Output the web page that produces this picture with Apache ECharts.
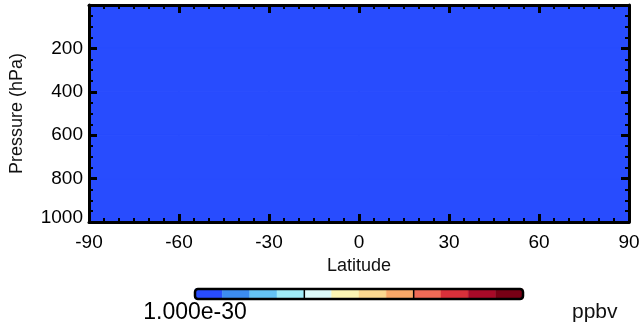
<!DOCTYPE html>
<html>
<head>
<meta charset="utf-8">
<script src="https://cdn.jsdelivr.net/npm/echarts@6/dist/echarts.min.js"></script>
<style>
html,body{margin:0;padding:0;background:#fff;}
#c{width:644px;height:330px;}
</style>
</head>
<body>
<div id="c"></div>
<script>
// ---- data ----
const latEdges = [-90, -60, -30, 0, 30, 60, 90];
const presEdges = [0, 200, 400, 600, 800, 1000];
// mixing ratio field (ppbv), rows = pressure bands, cols = latitude bands
const field = [
  [1e-30, 1e-30, 1e-30, 1e-30, 1e-30, 1e-30],
  [1e-30, 1e-30, 1e-30, 1e-30, 1e-30, 1e-30],
  [1e-30, 1e-30, 1e-30, 1e-30, 1e-30, 1e-30],
  [1e-30, 1e-30, 1e-30, 1e-30, 1e-30, 1e-30],
  [1e-30, 1e-30, 1e-30, 1e-30, 1e-30, 1e-30]
];
const contourLevels = [1e-30];
const contourColors = ['#284cfe', '#3c8cf0', '#64c3f5', '#a0ecf8', '#dcfafa', '#fcf5b4',
                       '#fcd890', '#faa868', '#f06a56', '#d8303a', '#a80a28', '#780015'];
const colorbarDividers = [4, 8];
const colorbarTickLabels = ['1.000e-30'];
const latTicks = [-90, -60, -30, 0, 30, 60, 90];
const presTicks = [200, 400, 600, 800, 1000];
const unitLabel = 'ppbv';

// ---- build ----
function colorFor(v) {
  let idx = 0;
  for (let i = 0; i < contourLevels.length; i++) if (v > contourLevels[i]) idx = i + 1;
  return contourColors[Math.min(idx, contourColors.length - 1)];
}
const cells = [];
for (let r = 0; r < field.length; r++)
  for (let c = 0; c < field[r].length; c++)
    cells.push([latEdges[c], latEdges[c + 1], presEdges[r], presEdges[r + 1], field[r][c]]);

const cbData = contourColors.map((col, i) => [i, i + 1]);

const font = 'Liberation Sans, Arial, Helvetica, sans-serif';
const chart = echarts.init(document.getElementById('c'), null, {renderer: 'canvas'});

const axisLine = {show: true, onZero: false, lineStyle: {color: '#000', width: 3}};
const axisTick = {show: true, inside: true, length: 8, lineStyle: {color: '#000', width: 3}};
const lastPres = presTicks[presTicks.length - 1];

chart.setOption({
  animation: false,
  backgroundColor: '#fff',
  grid: [
    {left: 88, right: 15, top: 5, bottom: 108, containLabel: false},
    {left: 195, width: 328, top: 289, height: 10, containLabel: false}
  ],
  xAxis: [
    {
      gridIndex: 0, type: 'value', min: -90, max: 90, interval: 30, position: 'bottom',
      name: 'Latitude', nameLocation: 'middle', nameGap: 30,
      nameTextStyle: {color: '#111', fontSize: 18, fontFamily: font},
      axisLabel: {color: '#000', fontSize: 19, fontFamily: font, margin: 11,
        formatter: v => latTicks.indexOf(v) >= 0 ? String(v) : ''},
      axisLine: axisLine, axisTick: axisTick,
      minorTick: {show: true, splitNumber: 6, length: 4, lineStyle: {color: '#000', width: 2}},
      splitLine: {show: false}, z: 10
    },
    {
      gridIndex: 0, type: 'value', min: -90, max: 90, interval: 30, position: 'top',
      axisLine: axisLine, axisTick: axisTick,
      minorTick: {show: true, splitNumber: 6, length: 4, lineStyle: {color: '#000', width: 2}},
      axisLabel: {show: false}, splitLine: {show: false}, z: 10
    },
    {
      gridIndex: 1, type: 'value', min: 0, max: 12, interval: 12, position: 'bottom',
      axisLine: {show: false}, axisTick: {show: false}, splitLine: {show: false},
      axisLabel: {color: '#000', fontSize: 23, fontFamily: font, margin: 2,
        formatter: v => v === 0 ? colorbarTickLabels[0] : ''}
    }
  ],
  yAxis: [
    {
      gridIndex: 0, type: 'value', min: 0, max: 1000, interval: 200, inverse: true, position: 'left',
      name: 'Pressure (hPa)', nameLocation: 'middle', nameGap: 63, nameRotate: 90,
      nameTextStyle: {color: '#111', fontSize: 18, fontFamily: font},
      axisLabel: {color: '#000', fontSize: 19, fontFamily: font, margin: 6,
        formatter: v => presTicks.indexOf(v) < 0 ? '' : (v === lastPres ? '{up|' + v + '}' : String(v)),
        rich: {up: {fontSize: 19, fontFamily: font, color: '#000', padding: [0, 0, 8, 0]}}},
      axisLine: axisLine, axisTick: axisTick,
      minorTick: {show: true, splitNumber: 4, length: 4, lineStyle: {color: '#000', width: 2}},
      splitLine: {show: false}, z: 10
    },
    {
      gridIndex: 0, type: 'value', min: 0, max: 1000, interval: 200, inverse: true, position: 'right',
      axisLabel: {show: false},
      axisLine: axisLine, axisTick: axisTick,
      minorTick: {show: true, splitNumber: 4, length: 4, lineStyle: {color: '#000', width: 2}},
      splitLine: {show: false}, z: 10
    },
    {
      gridIndex: 1, type: 'value', min: 0, max: 1, show: false
    }
  ],
  graphic: [
    {type: 'text', left: 572, top: 302,
     style: {text: unitLabel, fill: '#111', font: '21px ' + font}}
  ],
  series: [
    {
      type: 'custom', xAxisIndex: 0, yAxisIndex: 0, z: 1, clip: true,
      data: cells,
      renderItem: function (params, api) {
        const p0 = api.coord([api.value(0), api.value(2)]);
        const p1 = api.coord([api.value(1), api.value(3)]);
        const col = colorFor(api.value(4));
        return {
          type: 'rect',
          shape: {x: Math.min(p0[0], p1[0]), y: Math.min(p0[1], p1[1]),
                  width: Math.abs(p1[0] - p0[0]), height: Math.abs(p1[1] - p0[1])},
          style: {fill: col, stroke: col, lineWidth: 1}
        };
      }
    },
    {
      type: 'custom', xAxisIndex: 2, yAxisIndex: 2, z: 1,
      data: cbData,
      renderItem: function (params, api) {
        const i = params.dataIndex;
        const p0 = api.coord([api.value(0), 0]);
        const p1 = api.coord([api.value(1), 1]);
        return {
          type: 'rect',
          shape: {x: p0[0], y: p1[1], width: p1[0] - p0[0], height: p0[1] - p1[1]},
          style: {fill: contourColors[i], stroke: contourColors[i], lineWidth: 0.5}
        };
      }
    },
    {
      type: 'custom', xAxisIndex: 2, yAxisIndex: 2, z: 3,
      data: [[0, 12]],
      renderItem: function (params, api) {
        const p0 = api.coord([api.value(0), 0]);
        const p1 = api.coord([api.value(1), 1]);
        const children = [{
          type: 'rect',
          shape: {x: p0[0], y: p1[1], width: p1[0] - p0[0], height: p0[1] - p1[1], r: 3},
          style: {fill: null, stroke: '#000', lineWidth: 2.5}
        }];
        colorbarDividers.forEach(d => {
          const q0 = api.coord([d, 0]);
          const q1 = api.coord([d, 1]);
          children.push({type: 'line', shape: {x1: q0[0], y1: q0[1], x2: q1[0], y2: q1[1]},
                         style: {stroke: '#000', lineWidth: 1.5}});
        });
        return {type: 'group', children: children};
      }
    }
  ]
});
</script>
</body>
</html>
